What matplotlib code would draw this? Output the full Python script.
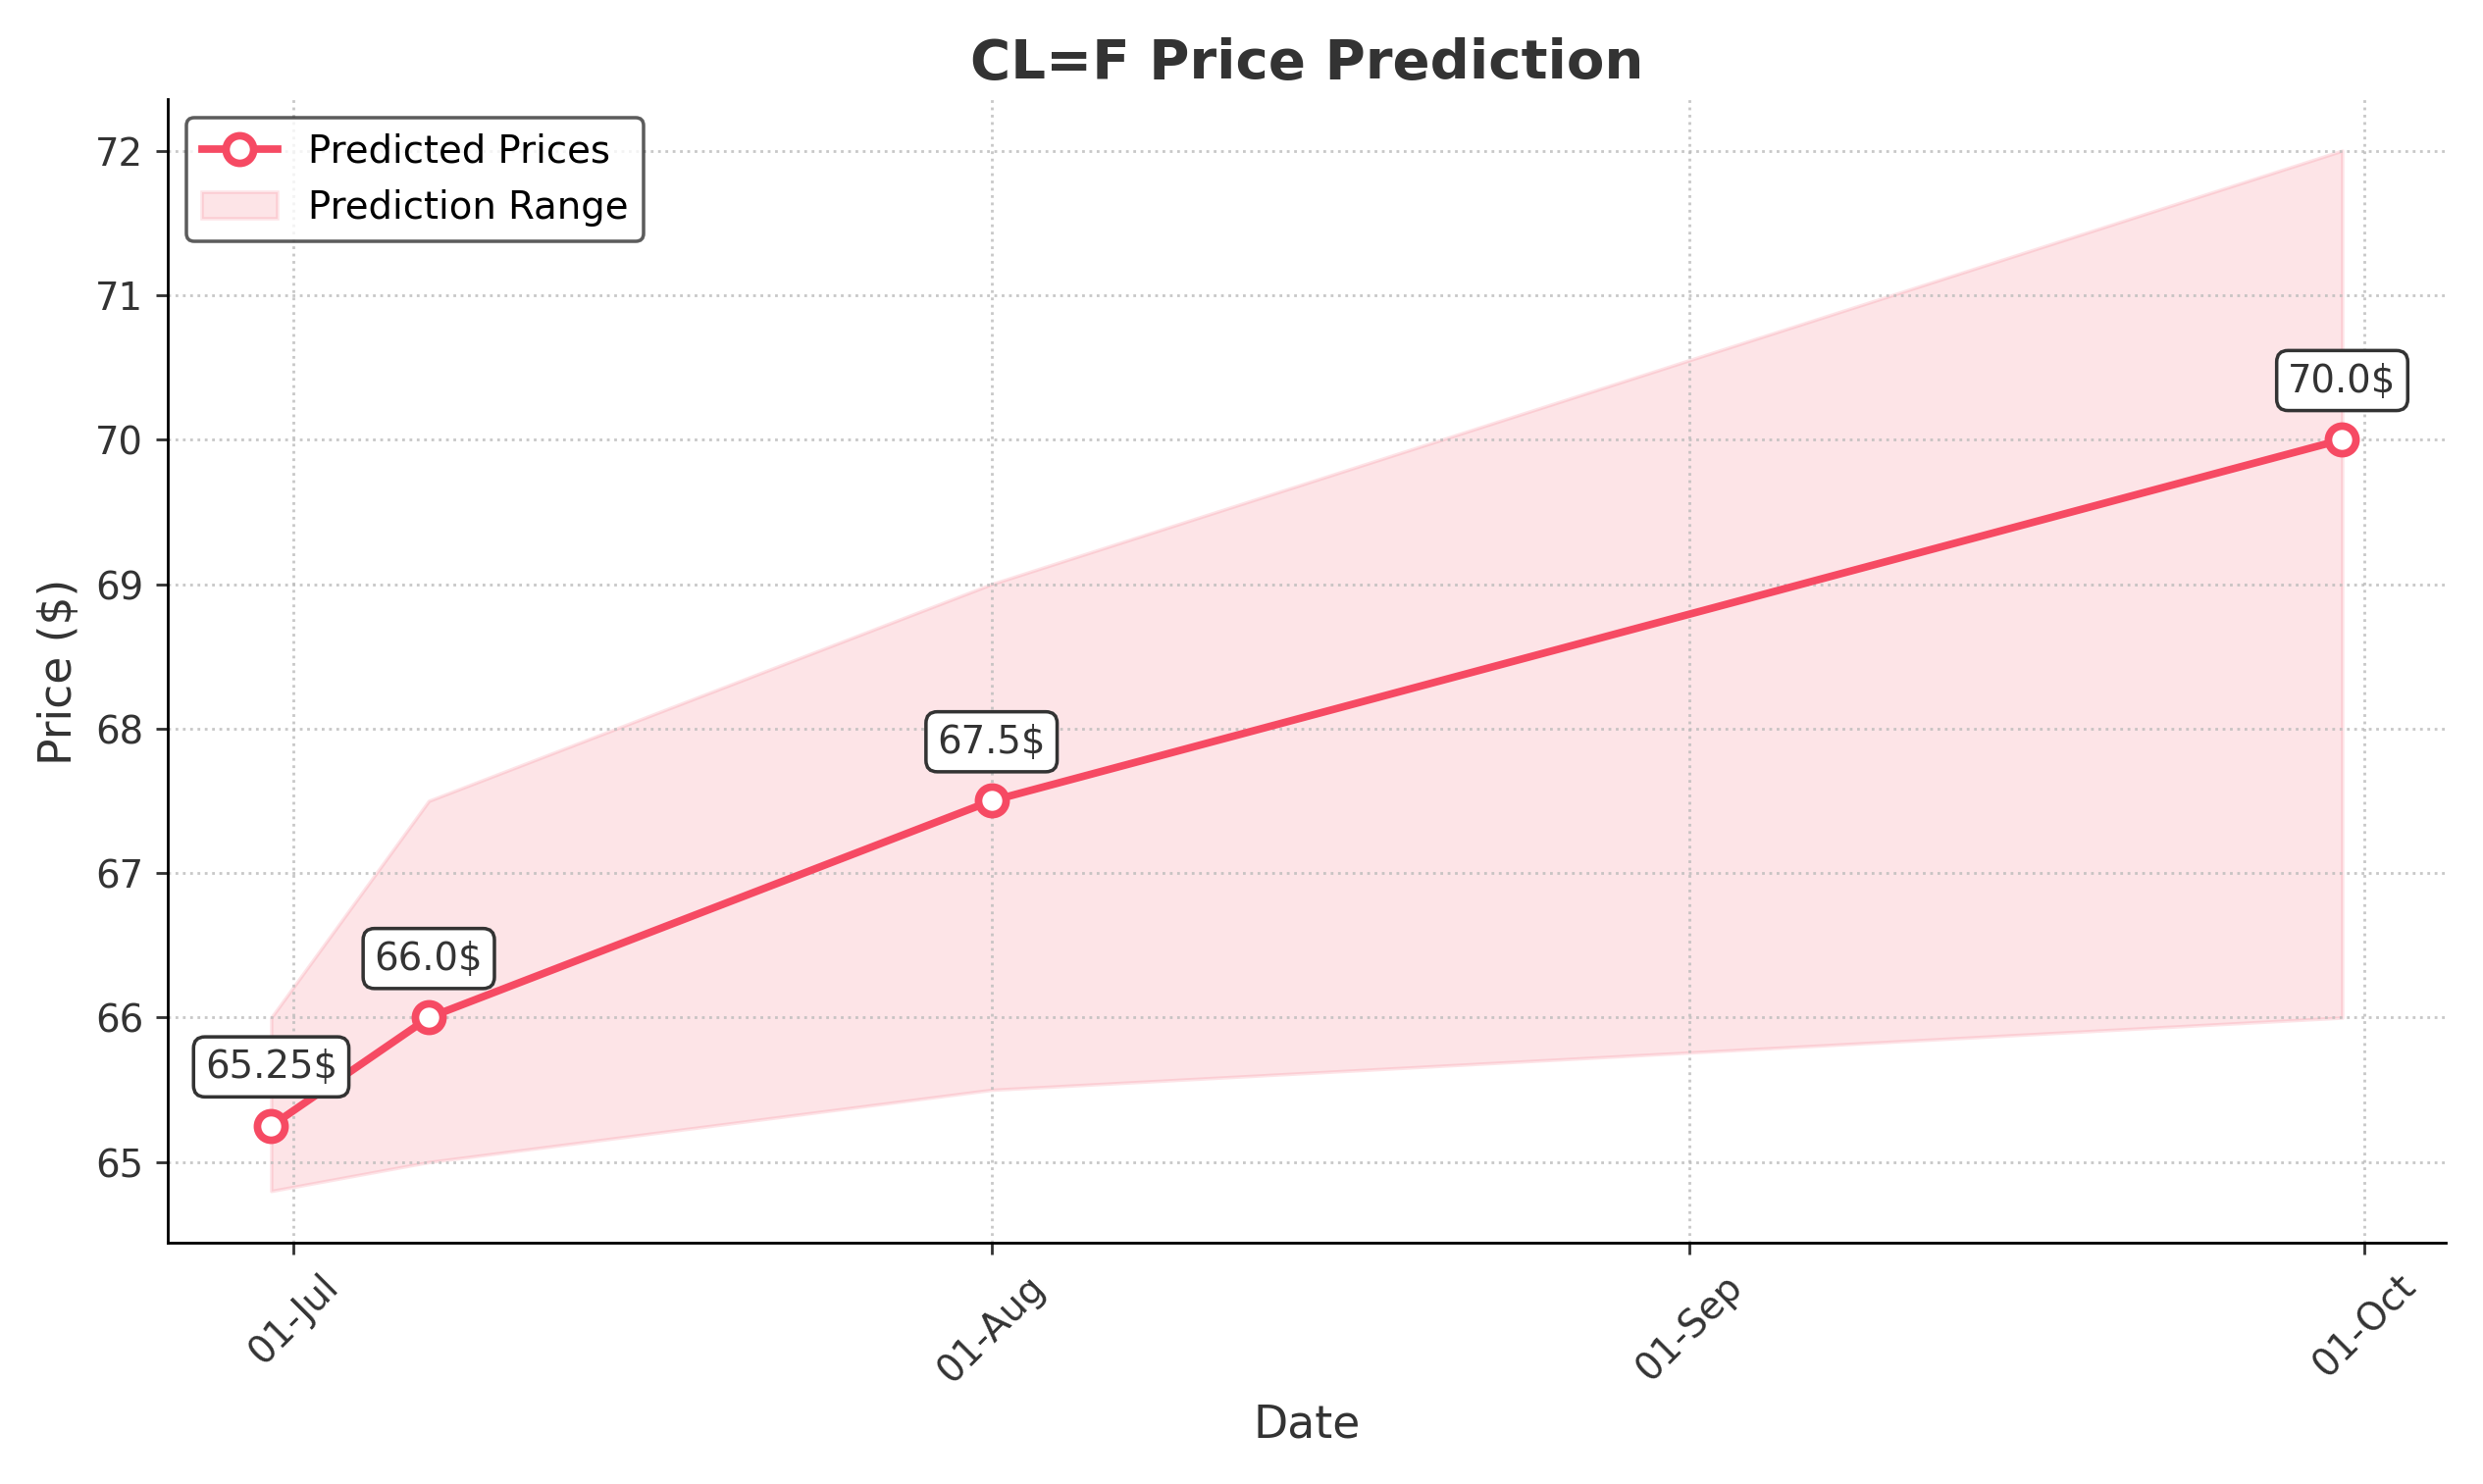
import matplotlib
matplotlib.use("Agg")
import matplotlib.pyplot as plt
import matplotlib.dates as mdates
import pandas as pd

dates = pd.to_datetime(["2025-06-30", "2025-07-07", "2025-08-01", "2025-09-30"])
predicted = [65.25, 66.0, 67.5, 70.0]
lower = [64.8, 65.0, 65.5, 66.0]
upper = [66.0, 67.5, 69.0, 72.0]
labels = ["65.25$", "66.0$", "67.5$", "70.0$"]

RED = "#f64a63"
fig, ax = plt.subplots(figsize=(10, 5.98), dpi=253.1)
ax.fill_between(dates, lower, upper, color=RED, alpha=0.15, label="Prediction Range")
ax.plot(dates, predicted, color=RED, lw=2.2, marker="o", markersize=8,
        markerfacecolor="white", markeredgewidth=2.2, label="Predicted Prices")
for d, p, t in zip(dates, predicted, labels):
    ax.annotate(t, (d, p), xytext=(0, 14), textcoords="offset points", ha="center",
                fontsize=11, color="#333333",
                bbox=dict(boxstyle="round,pad=0.3", fc="white", ec="#333333", lw=1))

ax.xaxis.set_major_locator(mdates.MonthLocator())
ax.xaxis.set_major_formatter(mdates.DateFormatter("%d-%b"))
plt.setp(ax.get_xticklabels(), rotation=45)
ax.grid(True, ls=":", color="#bbbbbb", alpha=0.8)
for s in ["top", "right"]:
    ax.spines[s].set_visible(False)
ax.tick_params(colors="#333333", labelsize=11)
ax.set_title("CL=F Price Prediction", fontsize=16, fontweight="bold", color="#333333")
ax.set_xlabel("Date", fontsize=13, color="#333333")
ax.set_ylabel("Price ($)", fontsize=13, color="#333333")
# reorder legend: line first
h, l = ax.get_legend_handles_labels()
ax.legend(h[::-1], l[::-1], loc="upper left", fontsize=11, edgecolor="#333333")
fig.tight_layout()
fig.savefig("out.png")
